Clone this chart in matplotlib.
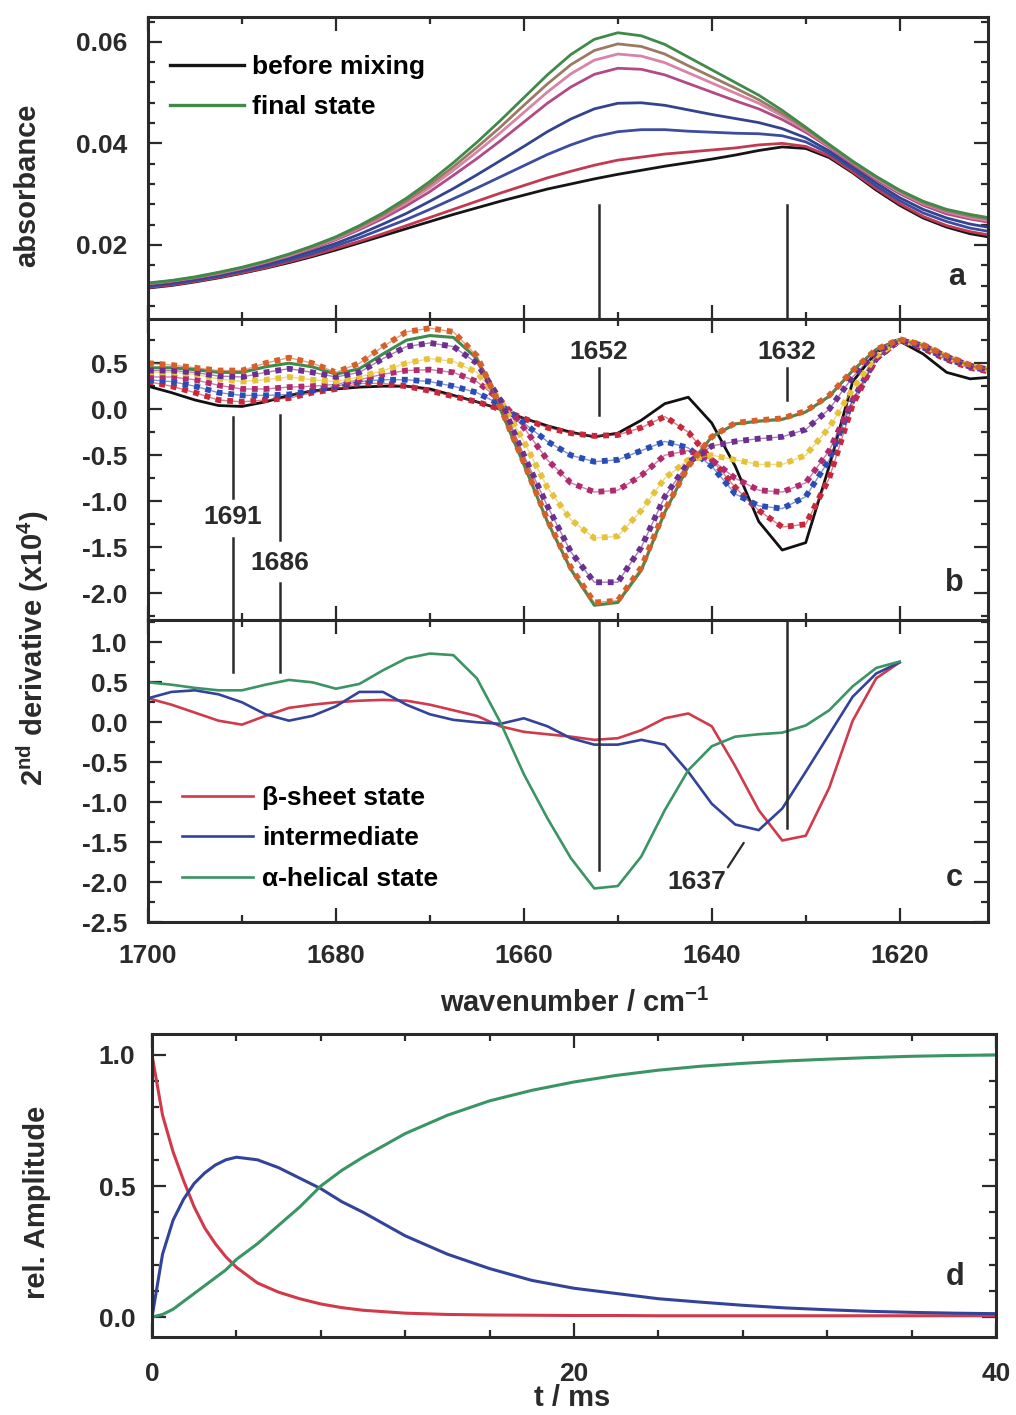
import numpy as np
import matplotlib
matplotlib.use("Agg")
import matplotlib.pyplot as plt
from matplotlib.ticker import MultipleLocator, FormatStrFormatter

plt.rcParams['font.family'] = ['Liberation Sans', 'DejaVu Sans']
plt.rcParams['font.weight'] = 'bold'
plt.rcParams['axes.unicode_minus'] = False
plt.rcParams['mathtext.fontset'] = 'custom'
plt.rcParams['mathtext.rm'] = 'Liberation Sans:bold'
plt.rcParams['mathtext.it'] = 'Liberation Sans:bold'
plt.rcParams['mathtext.bf'] = 'Liberation Sans:bold'

INK = '#2a2a2a'

# wavenumber grid (cm-1), 1700 -> 1610 in 2.5 steps
wn = np.arange(1700, 1609, -2.5)
wn_c = wn[:33]   # basis spectra stop at 1620

# ---- a: absorbance spectra during folding
abs_before = [.0115, .0120, .0127, .0135, .0144, .0154, .0165, .0177, .0190, .0204, .0218, .0232, .0246,
              .0260, .0273, .0286, .0298, .0310, .0320, .0330, .0339, .0347, .0355, .0362, .0369, .0377,
              .0386, .0393, .0390, .0372, .0342, .0308, .0278, .0253, .0235, .0222, .0214]
abs_t1 = [.0116, .0121, .0128, .0136, .0145, .0155, .0167, .0179, .0193, .0207, .0222, .0238, .0254,
          .0270, .0286, .0302, .0317, .0332, .0345, .0357, .0367, .0373, .0379, .0383, .0387, .0391,
          .0397, .0400, .0394, .0375, .0344, .0311, .0281, .0256, .0238, .0226, .0218]
abs_t2 = [.0118, .0123, .0130, .0138, .0148, .0158, .0170, .0183, .0198, .0214, .0232, .0250, .0270,
          .0291, .0312, .0334, .0356, .0378, .0397, .0413, .0423, .0427, .0427, .0424, .0422, .0420,
          .0419, .0415, .0403, .0380, .0349, .0316, .0287, .0263, .0246, .0233, .0225]
abs_t3 = [.0120, .0125, .0132, .0141, .0150, .0161, .0174, .0188, .0203, .0221, .0241, .0262, .0286,
          .0311, .0338, .0366, .0394, .0423, .0448, .0468, .0479, .0480, .0475, .0466, .0457, .0449,
          .0441, .0429, .0411, .0385, .0354, .0322, .0293, .0270, .0253, .0241, .0233]
abs_t4 = [.0123, .0128, .0135, .0143, .0153, .0165, .0178, .0193, .0210, .0230, .0252, .0277, .0305,
          .0337, .0370, .0405, .0442, .0479, .0511, .0536, .0548, .0546, .0535, .0518, .0501, .0484,
          .0468, .0447, .0422, .0392, .0359, .0328, .0301, .0278, .0261, .0251, .0243]
abs_t5 = [.0124, .0129, .0136, .0144, .0154, .0166, .0179, .0195, .0212, .0233, .0256, .0283, .0313,
          .0347, .0383, .0421, .0461, .0501, .0537, .0564, .0576, .0572, .0559, .0539, .0519, .0499,
          .0479, .0454, .0426, .0394, .0362, .0331, .0304, .0281, .0265, .0254, .0246]
abs_t6 = [.0124, .0129, .0136, .0145, .0155, .0167, .0181, .0196, .0214, .0235, .0259, .0287, .0319,
          .0354, .0392, .0432, .0475, .0517, .0555, .0583, .0596, .0591, .0576, .0553, .0531, .0509,
          .0486, .0459, .0429, .0396, .0363, .0333, .0306, .0283, .0267, .0257, .0249]
abs_final = [.0125, .0130, .0137, .0146, .0156, .0168, .0182, .0198, .0216, .0238, .0263, .0292, .0325,
             .0362, .0402, .0445, .0490, .0535, .0575, .0605, .0618, .0612, .0595, .0570, .0545, .0520,
             .0495, .0465, .0432, .0398, .0365, .0335, .0308, .0286, .0270, .0260, .0252]

# ---- b: second derivative spectra (x10^4)
d2_before = [0.25, 0.18, 0.10, 0.04, 0.03, 0.08, 0.15, 0.20, 0.22, 0.24, 0.25, 0.25, 0.22, 0.15, 0.08, 0.00,
             -0.10, -0.18, -0.25, -0.30, -0.26, -0.12, 0.06, 0.13, -0.15, -0.62, -1.22, -1.53, -1.45, -0.62,
             0.30, 0.62, 0.74, 0.60, 0.40, 0.33, 0.35]
d2_red = [0.30, 0.25, 0.18, 0.10, 0.08, 0.10, 0.12, 0.18, 0.22, 0.28, 0.28, 0.25, 0.20, 0.14, 0.08, 0.00,
          -0.10, -0.20, -0.26, -0.29, -0.28, -0.20, -0.08, -0.25, -0.55, -0.85, -1.10, -1.28, -1.25, -0.75,
          0.05, 0.55, 0.75, 0.66, 0.54, 0.45, 0.40]
d2_blue = [0.32, 0.30, 0.25, 0.18, 0.15, 0.15, 0.16, 0.20, 0.25, 0.30, 0.32, 0.32, 0.30, 0.25, 0.18, 0.05,
           -0.15, -0.35, -0.50, -0.57, -0.55, -0.45, -0.35, -0.42, -0.62, -0.92, -1.05, -1.08, -0.95, -0.55,
           0.10, 0.55, 0.75, 0.67, 0.55, 0.46, 0.41]
d2_magenta = [0.35, 0.35, 0.32, 0.26, 0.22, 0.22, 0.24, 0.25, 0.27, 0.32, 0.38, 0.42, 0.43, 0.40, 0.30, 0.10,
              -0.20, -0.55, -0.80, -0.90, -0.88, -0.72, -0.50, -0.45, -0.55, -0.75, -0.88, -0.90, -0.80, -0.45,
              0.10, 0.55, 0.75, 0.68, 0.56, 0.47, 0.41]
d2_yellow = [0.40, 0.40, 0.38, 0.33, 0.30, 0.32, 0.35, 0.32, 0.30, 0.35, 0.42, 0.50, 0.55, 0.52, 0.40, 0.10,
             -0.35, -0.85, -1.20, -1.40, -1.38, -1.10, -0.75, -0.55, -0.50, -0.55, -0.60, -0.60, -0.50, -0.20,
             0.22, 0.58, 0.75, 0.69, 0.57, 0.47, 0.42]
d2_purple = [0.42, 0.42, 0.40, 0.36, 0.35, 0.40, 0.44, 0.40, 0.35, 0.40, 0.55, 0.68, 0.72, 0.68, 0.50, 0.10,
             -0.50, -1.05, -1.55, -1.88, -1.88, -1.50, -0.95, -0.58, -0.40, -0.35, -0.32, -0.30, -0.22, 0.00,
             0.35, 0.62, 0.75, 0.69, 0.57, 0.47, 0.42]
d2_orange = [0.50, 0.48, 0.45, 0.42, 0.42, 0.50, 0.56, 0.50, 0.40, 0.50, 0.68, 0.84, 0.88, 0.84, 0.58, 0.02,
             -0.58, -1.20, -1.72, -2.10, -2.08, -1.72, -1.10, -0.62, -0.30, -0.15, -0.12, -0.10, -0.02, 0.15,
             0.42, 0.65, 0.76, 0.70, 0.58, 0.48, 0.42]
d2_final = [0.45, 0.45, 0.43, 0.40, 0.40, 0.46, 0.50, 0.46, 0.38, 0.44, 0.60, 0.75, 0.80, 0.78, 0.55, 0.00,
            -0.60, -1.22, -1.74, -2.13, -2.10, -1.75, -1.12, -0.62, -0.30, -0.16, -0.13, -0.11, -0.03, 0.14,
            0.42, 0.65, 0.76, 0.70, 0.58, 0.48, 0.42]

# ---- c: second derivative of the three states
beta_c = [0.30, 0.22, 0.12, 0.02, -0.03, 0.08, 0.18, 0.22, 0.25, 0.27, 0.28, 0.27, 0.22, 0.15, 0.08, -0.05,
          -0.12, -0.15, -0.18, -0.22, -0.20, -0.10, 0.05, 0.11, -0.05, -0.55, -1.10, -1.48, -1.42, -0.82,
          0.02, 0.55, 0.75]
inter_c = [0.30, 0.38, 0.40, 0.35, 0.25, 0.10, 0.02, 0.08, 0.20, 0.38, 0.38, 0.22, 0.10, 0.03, 0.00, -0.02,
           0.05, -0.05, -0.20, -0.28, -0.28, -0.22, -0.28, -0.62, -1.02, -1.28, -1.35, -1.08, -0.62, -0.15,
           0.32, 0.61, 0.75]
helix_c = [0.50, 0.47, 0.43, 0.40, 0.40, 0.47, 0.53, 0.50, 0.42, 0.48, 0.65, 0.80, 0.86, 0.84, 0.55, 0.00,
           -0.65, -1.20, -1.70, -2.08, -2.05, -1.68, -1.10, -0.60, -0.30, -0.18, -0.15, -0.13, -0.04, 0.15,
           0.45, 0.68, 0.76]

# ---- d: relative amplitudes vs time
t_ms = [0, 0.5, 1, 1.5, 2, 2.5, 3, 3.5, 4, 5, 6, 7, 8, 9, 10, 12, 14, 16, 18, 20,
        22, 24, 26, 28, 30, 32, 34, 36, 38, 40]
amp_beta = [1.00, 0.77, 0.63, 0.52, 0.42, 0.34, 0.28, 0.23, 0.19, 0.13, 0.095, 0.07, 0.05, 0.036, 0.026,
            0.015, 0.010, 0.008, 0.007, 0.006, 0.006, 0.005, 0.005, 0.005, 0.005, 0.005, 0.005, 0.005,
            0.005, 0.005]
amp_inter = [0.00, 0.24, 0.37, 0.45, 0.51, 0.55, 0.58, 0.60, 0.61, 0.60, 0.57, 0.53, 0.49, 0.44, 0.40,
             0.31, 0.24, 0.185, 0.14, 0.11, 0.09, 0.07, 0.057, 0.045, 0.035, 0.028, 0.022, 0.018, 0.015, 0.013]
amp_helix = [0.00, 0.01, 0.03, 0.06, 0.09, 0.12, 0.15, 0.18, 0.22, 0.28, 0.35, 0.42, 0.50, 0.56, 0.61,
             0.70, 0.77, 0.825, 0.865, 0.897, 0.922, 0.942, 0.957, 0.968, 0.977, 0.984, 0.99, 0.995, 0.998, 1.00]

bands_main = [1652, 1632]
bands_high = [1691, 1686]

RED = '#d03a4a'
BLUE = '#33439a'
GREEN = '#3a9464'

W, H = 1016, 1415
fig = plt.figure(figsize=(W / 100, H / 100), dpi=100)


def box(left, top, right, bottom):
    return [left / W, 1 - bottom / H, (right - left) / W, (bottom - top) / H]


ax_a = fig.add_axes(box(148, 17, 988, 319))
ax_b = fig.add_axes(box(148, 319, 988, 620))
ax_c = fig.add_axes(box(148, 620, 988, 922))
ax_d = fig.add_axes(box(152, 1034, 996, 1337))


def style(ax):
    for s in ax.spines.values():
        s.set_linewidth(2.2)
        s.set_color(INK)
    ax.tick_params(which='both', direction='in', top=True, right=True, colors=INK,
                   labelsize=19, width=1.6)
    ax.tick_params(which='major', length=10, pad=15)
    ax.tick_params(which='minor', length=5)


for ax in (ax_a, ax_b, ax_c):
    style(ax)
    ax.set_xlim(1700, 1610.6)
    ax.xaxis.set_major_locator(MultipleLocator(20))
    ax.xaxis.set_minor_locator(MultipleLocator(10))
ax_a.tick_params(labelbottom=False)
ax_b.tick_params(labelbottom=False)
ax_c.tick_params(axis='x', pad=16)

# panel a
spectra = [(abs_before, '#151515'), (abs_t1, '#c23a52'), (abs_t2, '#3c4c9e'), (abs_t3, '#34448c'),
           (abs_t4, '#b24a86'), (abs_t5, '#d884a6'), (abs_t6, '#9a7a62'), (abs_final, '#3f8a48')]
for vals, col in spectra:
    ax_a.plot(wn, vals, color=col, lw=2.0)
ax_a.set_ylim(0.0054, 0.0649)
ax_a.yaxis.set_major_locator(MultipleLocator(0.02))
ax_a.yaxis.set_minor_locator(MultipleLocator(0.004))
ax_a.yaxis.set_major_formatter(FormatStrFormatter('%.2f'))
h1, = ax_a.plot([], [], color='#151515', lw=2.4)
h2, = ax_a.plot([], [], color='#3f8a48', lw=2.4)
ax_a.legend([h1, h2], ['before mixing', 'final state'], loc='upper left',
            bbox_to_anchor=(0.026, 0.875), frameon=False, fontsize=19, handlelength=2.8,
            handletextpad=0.3, labelspacing=0.62, borderpad=0, borderaxespad=0)
for b in bands_main:
    ax_a.axvline(b, ymin=0, ymax=0.377, color=INK, lw=1.8)

# panel b
ax_b.plot(wn, d2_before, color='#111111', lw=2.0)
ax_b.plot(wn, d2_final, color='#3f8a4c', lw=2.2)
dotted = [(d2_red, '#c8283c'), (d2_blue, '#2a4db5'), (d2_magenta, '#b02a6e'),
          (d2_yellow, '#e4c23a'), (d2_purple, '#6b2f8f'), (d2_orange, '#d5602a')]
for vals, col in dotted:
    ax_b.plot(wn, vals, color=col, lw=1.0, alpha=0.6)
    ax_b.plot(wn, vals, color=col, lw=4.2, ls=(0, (1, 1)), dash_capstyle='butt')
ax_b.set_ylim(-2.29, 0.98)
ax_b.yaxis.set_major_locator(MultipleLocator(0.5))
ax_b.yaxis.set_minor_locator(MultipleLocator(0.25))
ax_b.yaxis.set_major_formatter(FormatStrFormatter('%.1f'))
tb = ax_b.get_xaxis_transform()
for b, ylo in zip(bands_main, [0.681, 0.731]):
    ax_b.axvline(b, ymin=ylo, ymax=0.837, color=INK, lw=1.8)
    ax_b.text(b, 0.89, str(b), transform=tb, ha='center', va='center', fontsize=19, color=INK)
# 1691 / 1686 markers, broken by their labels
ax_b.axvline(bands_high[0], ymin=0.405, ymax=0.674, color=INK, lw=1.8)
ax_b.axvline(bands_high[0], ymin=0.0, ymax=0.272, color=INK, lw=1.8)
ax_b.text(bands_high[0], 0.342, str(bands_high[0]), transform=tb, ha='center', va='center',
          fontsize=19, color=INK)
ax_b.axvline(bands_high[1], ymin=0.266, ymax=0.681, color=INK, lw=1.8)
ax_b.axvline(bands_high[1], ymin=0.0, ymax=0.123, color=INK, lw=1.8)
ax_b.text(bands_high[1], 0.189, str(bands_high[1]), transform=tb, ha='center', va='center',
          fontsize=19, color=INK)

# panel c
ax_c.plot(wn_c, beta_c, color=RED, lw=1.9)
ax_c.plot(wn_c, inter_c, color=BLUE, lw=1.9)
ax_c.plot(wn_c, helix_c, color=GREEN, lw=1.9)
ax_c.set_ylim(-2.5, 1.28)
ax_c.yaxis.set_major_locator(MultipleLocator(0.5))
ax_c.yaxis.set_minor_locator(MultipleLocator(0.25))
ax_c.yaxis.set_major_formatter(FormatStrFormatter('%.1f'))
ax_c.xaxis.set_major_formatter(FormatStrFormatter('%d'))
ax_c.legend(['β-sheet state', 'intermediate', 'α-helical state'], loc='upper left',
            bbox_to_anchor=(0.040, 0.45), frameon=False, fontsize=19, handlelength=2.7,
            handletextpad=0.35, labelspacing=0.62, borderpad=0, borderaxespad=0)
for b, ylo in zip(bands_main, [0.172, 0.311]):
    ax_c.axvline(b, ymin=ylo, ymax=1.0, color=INK, lw=1.8)
for b in bands_high:
    ax_c.axvline(b, ymin=0.828, ymax=1.0, color=INK, lw=1.8)
ax_c.annotate('1637', xy=(1636.6, -1.51), xytext=(1641.6, -2.0), ha='center', va='center',
              fontsize=19, color=INK,
              arrowprops=dict(arrowstyle='-', color=INK, lw=1.6, relpos=(1.0, 1.0),
                              shrinkA=0, shrinkB=0))

# panel d
ax_d.plot(t_ms, amp_beta, color=RED, lw=2.2)
ax_d.plot(t_ms, amp_inter, color=BLUE, lw=2.2)
ax_d.plot(t_ms, amp_helix, color=GREEN, lw=2.2)
style(ax_d)
ax_d.set_xlim(0, 40)
ax_d.set_ylim(-0.076, 1.08)
ax_d.xaxis.set_major_locator(MultipleLocator(20))
ax_d.xaxis.set_minor_locator(MultipleLocator(4))
ax_d.yaxis.set_major_locator(MultipleLocator(0.5))
ax_d.yaxis.set_minor_locator(MultipleLocator(0.1))
ax_d.yaxis.set_major_formatter(FormatStrFormatter('%.1f'))
ax_d.tick_params(axis='x', pad=18)
ax_d.tick_params(axis='y', pad=12)

# panel letters
for ax, letter, x, y in [(ax_a, 'a', 0.963, 0.139), (ax_b, 'b', 0.960, 0.123),
                         (ax_c, 'c', 0.960, 0.146), (ax_d, 'd', 0.951, 0.198)]:
    ax.text(x, y, letter, transform=ax.transAxes, ha='center', va='center', fontsize=22, color=INK)

# axis titles
fig.text(27 / W, 1 - 185 / H, 'absorbance', rotation=90, ha='center', va='center', fontsize=21, color=INK)
fig.text(33 / W, 1 - 648 / H, r'2$^{\mathrm{nd}}$ derivative (x10$^{\mathrm{4}}$)', rotation=90,
         ha='center', va='center', fontsize=21, color=INK)
fig.text(575 / W, 1 - 1003 / H, r'wavenumber / cm$^{\mathrm{-1}}$', ha='center', va='center',
         fontsize=21, color=INK)
fig.text(37 / W, 1 - 1202 / H, 'rel. Amplitude', rotation=90, ha='center', va='center',
         fontsize=21, color=INK)
fig.text(572 / W, 1 - 1398 / H, 't / ms', ha='center', va='center', fontsize=21, color=INK)

fig.savefig('out.png', dpi=100)
